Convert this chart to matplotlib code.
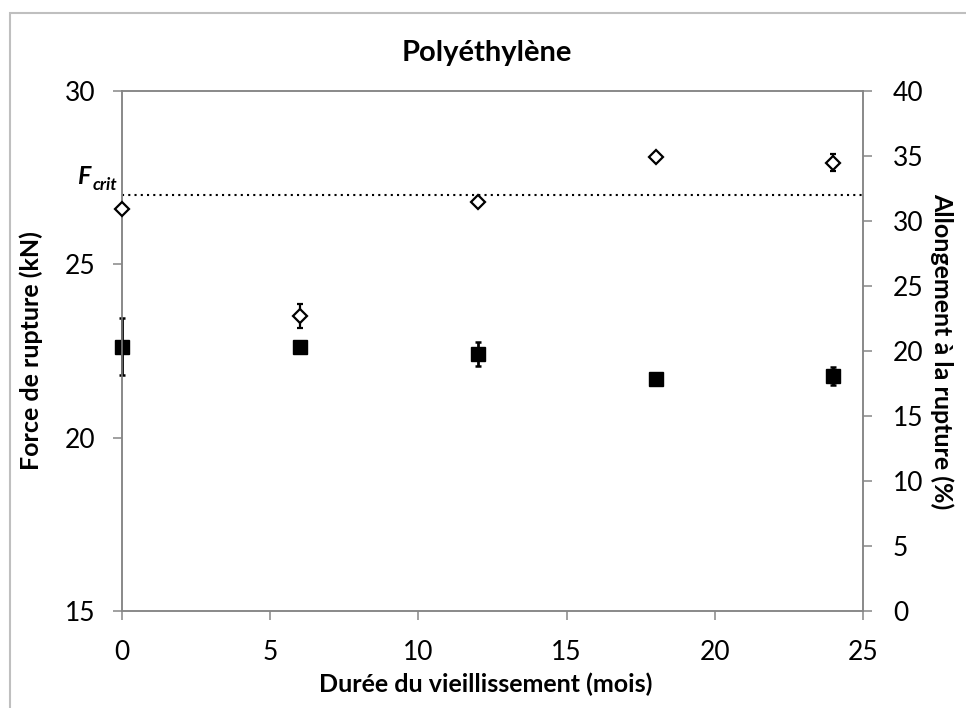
import matplotlib.pyplot as plt
from matplotlib.patches import Rectangle

plt.rcParams['font.family'] = ['Lato', 'DejaVu Sans']

# vieillissement (mois)
mois = [0, 6, 12, 18, 24]

# force de rupture (kN) et ecart-type
force = [22.62, 22.62, 22.41, 21.68, 21.78]
force_err = [0.82, 0.08, 0.35, 0.08, 0.27]

# allongement a la rupture (%) et ecart-type
allong = [30.9, 22.7, 31.5, 34.95, 34.5]
allong_err = [0.2, 0.9, 0.3, 0.25, 0.65]

f_crit = 27.0

W, H = 966, 708
fig = plt.figure(figsize=(W / 100, H / 100), dpi=100)
ax = fig.add_axes([122 / W, 1 - 611 / H, (863 - 122) / W, (611 - 91) / H])
ax2 = ax.twinx()

spine_col = '#868686'
for a in (ax, ax2):
    for s in a.spines.values():
        s.set_color(spine_col)
        s.set_linewidth(1.1)
    a.tick_params(colors=spine_col, labelcolor='black', labelsize=19,
                  length=6.5, width=1.1, direction='out')

# force sur l'axe de gauche
ax.errorbar(mois, force, yerr=force_err, fmt='s', color='black', ms=10.5,
            ecolor='black', elinewidth=2, capsize=2.5, capthick=1.8,
            clip_on=False, zorder=3)
ax.plot([0, 25], [f_crit, f_crit], color='black', lw=1.5,
        linestyle=(0, (1, 2)), dash_capstyle='butt')

# allongement sur l'axe de droite
ax2.errorbar(mois, allong, yerr=allong_err, fmt='D', mfc='white', mec='black',
             mew=1.6, ms=7.5, ecolor='black', elinewidth=1.6, capsize=2.5,
             capthick=1.6, clip_on=False, zorder=3)

ax.set_xlim(0, 25)
ax.set_xticks([0, 5, 10, 15, 20, 25])
ax.set_ylim(15, 30)
ax.set_yticks([15, 20, 25, 30])
ax2.set_ylim(0, 40)
ax2.set_yticks(range(0, 45, 5))
ax.tick_params(axis='x', pad=14.5)
ax.tick_params(axis='y', pad=12.5)
ax2.tick_params(axis='y', pad=15)

ax.set_xlabel('Durée du vieillissement (mois)', fontsize=18, fontweight='bold')
ax.xaxis.set_label_coords((486 - 122) / (863 - 122), -(673 - 611) / (611 - 91))
ax.set_ylabel('Force de rupture (kN)', fontsize=18, fontweight='bold', labelpad=16)
ax2.set_ylabel('Allongement à la rupture (%)', fontsize=18, fontweight='bold',
               rotation=-90, labelpad=22)
fig.text(487 / W, 1 - 53 / H, 'Polyéthylène', ha='center', va='center',
         fontsize=21, fontweight='bold')

# etiquette F_crit
fig.text(77 / W, 1 - 184 / H, 'F', fontsize=18, fontweight='bold',
         fontstyle='italic', ha='left', va='baseline')
fig.text(93 / W, 1 - 190 / H, 'crit', fontsize=12.5, fontweight='bold',
         fontstyle='italic', ha='left', va='baseline')

# cadre du graphique
fig.add_artist(Rectangle((10 / W, -0.1), 2, 1 - 13 / H + 0.1,
                         transform=fig.transFigure, fill=False,
                         ec='#bfbfbf', lw=1.5))

fig.savefig('out.png', dpi=100)
